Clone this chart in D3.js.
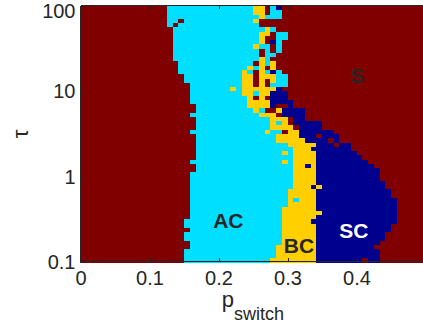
<!DOCTYPE html>
<html>
<head>
<meta charset="utf-8">
<script src="https://cdn.jsdelivr.net/npm/d3@7"></script>
<style>
  body { margin: 0; background: #fff; }
  svg { display: block; }
  text { font-family: "Liberation Sans", Arial, Helvetica, sans-serif; fill: #262626; }
</style>
</head>
<body>
<script>
// phase map: 60 columns of p_switch (0 .. 0.5) by 60 rows of tau (top row = tau 100, log spaced)
// each row is run-length coded: S = S (dark red), A = AC (cyan), B = BC (yellow), C = SC (navy)
var rows = [
  "15S 15A 2B 1S 1A 1C 25S",
  "15S 15A 2B 1S 2A 25S",
  "15S 16A 1B 3A 25S",
  "15S 2A 1S 12A 1B 29S",
  "15S 1A 1S 14A 29S",
  "16S 16A 1B 1A 26S",
  "16S 15A 2B 1S 2A 24S",
  "16S 15A 1B 2S 2A 24S",
  "16S 15A 1B 1S 1C 1A 25S",
  "16S 14A 1B 2A 1S 1A 25S",
  "16S 15A 1S 1A 1S 1A 25S",
  "16S 15A 1S 2A 26S",
  "16S 15A 1B 1A 27S",
  "17S 13A 1S 1B 1A 1B 26S",
  "17S 12A 1B 1A 1B 1S 1B 26S",
  "17S 11A 1B 1A 1S 1B 1A 1C 1A 25S",
  "18S 10A 2B 1S 3B 2A 24S",
  "18S 10A 2B 1S 1B 1S 1B 2A 24S",
  "19S 9A 2B 1S 1B 1S 3A 24S",
  "19S 7A 1B 1A 6B 1C 25S",
  "19S 9A 2B 1A 2B 3C 24S",
  "19S 10A 1B 1S 1B 1S 3C 24S",
  "19S 10A 4B 4C 23S",
  "20S 9A 4B 1C 2S 1C 23S",
  "20S 10A 1B 1A 2S 1B 4C 21S",
  "19S 12A 3B 1S 4C 21S",
  "20S 13A 3B 1S 2C 21S",
  "20S 13A 1B 1A 1B 1S 5C 18S",
  "20S 13A 4B 1S 4C 18S",
  "19S 13A 1B 2A 1S 2B 6C 16S",
  "20S 14A 4B 3C 1S 3C 15S",
  "20S 14A 5B 4C 1S 1C 15S",
  "20S 16A 5B 3C 1S 2C 13S",
  "20S 17A 3B 7C 13S",
  "20S 15A 1B 1A 4B 7C 12S",
  "20S 17A 4B 8C 11S",
  "19S 16A 1B 1A 4B 9C 10S",
  "20S 17A 2B 1C 1B 10C 9S",
  "20S 17A 4B 11C 8S",
  "19S 18A 4B 11C 8S",
  "19S 18A 4B 11C 8S",
  "19S 18A 4B 12C 7S",
  "19S 18A 3B 1C 1B 11C 7S",
  "19S 17A 5B 13C 6S",
  "19S 17A 5B 13C 6S",
  "19S 17A 1B 1A 3B 14C 5S",
  "19S 17A 5B 14C 5S",
  "19S 16A 6B 14C 5S",
  "19S 16A 7B 13C 5S",
  "19S 16A 6B 14C 5S",
  "18S 17A 5B 15C 5S",
  "18S 17A 6B 13C 6S",
  "19S 16A 6B 13C 6S",
  "18S 17A 6B 12C 7S",
  "18S 17A 6B 12C 7S",
  "19S 16A 6B 11C 8S",
  "19S 15A 7B 10C 9S",
  "18S 16A 7B 11C 8S",
  "18S 16A 7B 11C 8S",
  "18S 15A 8B 8C 1S 2C 8S"
];
var nCols = 60;

var categories = ["S", "A", "B", "C"];
var categoryColors = ["#800000", "#00dfff", "#ffcf00", "#00008f"];

var xDomain = [0, 0.5];
var yDomain = [0.1, 100];
var xTicks = [0, 0.1, 0.2, 0.3, 0.4];
var xTickLabels = ["0", "0.1", "0.2", "0.3", "0.4"];
var yTicks = [0.1, 1, 10, 100];
var yTickLabels = ["0.1", "1", "10", "100"];

// region labels, placed in data units (p, tau at baseline)
var regionNames = ["S", "AC", "BC", "SC"];
var regionP = [0.4015, 0.2142, 0.3167, 0.396];
var regionTau = [12.6, 0.25, 0.127, 0.191];
var regionFill = ["#262626", "#262626", "#262626", "#ffffff"];

var W = 423, H = 326;
var plotLeft = 80.5, plotRight = 425.5, plotTop = 6, plotBottom = 262;

var svg = d3.select("body").append("svg")
  .attr("width", W)
  .attr("height", H);

var x = d3.scaleLinear().domain(xDomain).range([plotLeft, plotRight]);
var y = d3.scaleLog().domain(yDomain).range([plotBottom, plotTop]);

var colBand = d3.scaleBand().domain(d3.range(nCols)).range([x(xDomain[0]), x(xDomain[1])]);
var rowBand = d3.scaleBand().domain(d3.range(rows.length)).range([y(yDomain[1]), y(yDomain[0])]);
var color = d3.scaleOrdinal().domain(categories).range(categoryColors);

// decode the runs into rectangles
var runs = [];
rows.forEach(function (r, i) {
  var col = 0;
  r.split(" ").forEach(function (tok) {
    var n = parseInt(tok, 10);
    var c = tok.slice(-1);
    runs.push({ row: i, start: col, len: n, cat: c });
    col += n;
  });
});

svg.append("g")
  .attr("shape-rendering", "crispEdges")
  .selectAll("rect")
  .data(runs)
  .enter().append("rect")
  .attr("x", function (d) { return colBand(d.start); })
  .attr("y", function (d) { return rowBand(d.row); })
  .attr("width", function (d) { return colBand.bandwidth() * d.len + 0.5; })
  .attr("height", rowBand.bandwidth() + 0.5)
  .attr("fill", function (d) { return color(d.cat); });

// region labels
svg.append("g").selectAll("text")
  .data(regionNames)
  .enter().append("text")
  .attr("x", function (d, i) { return x(regionP[i]); })
  .attr("y", function (d, i) { return y(regionTau[i]); })
  .attr("text-anchor", "middle")
  .style("font-size", "21px")
  .style("font-weight", "bold")
  .style("fill", function (d, i) { return regionFill[i]; })
  .text(function (d) { return d; });

// axes, box style with inward ticks
function styleAxis(g) {
  g.select(".domain").attr("stroke", "#262626").attr("shape-rendering", "crispEdges");
  g.selectAll(".tick line").attr("stroke", "#262626").attr("shape-rendering", "crispEdges");
  g.selectAll(".tick text").style("font-size", "20px").attr("fill", "#262626");
}

svg.append("g")
  .attr("transform", "translate(0," + (plotBottom - 1) + ")")
  .call(d3.axisBottom(x).tickValues(xTicks)
    .tickFormat(function (d, i) { return xTickLabels[i]; })
    .tickSizeInner(-3.5).tickSizeOuter(0).tickPadding(10))
  .call(styleAxis);

svg.append("g")
  .attr("transform", "translate(0," + (plotTop - 1) + ")")
  .call(d3.axisTop(x).tickValues(xTicks).tickFormat("")
    .tickSizeInner(-3.5).tickSizeOuter(0))
  .call(styleAxis);

var yAxis = svg.append("g")
  .attr("transform", "translate(" + (plotLeft - 0.5) + ",0)")
  .call(d3.axisLeft(y).tickValues(yTicks)
    .tickFormat(function (d, i) { return yTickLabels[i]; })
    .tickSizeInner(-3.5).tickSizeOuter(0).tickPadding(4.5))
  .call(styleAxis);
// top label sits a little below its tick, as in the original
yAxis.selectAll(".tick text").filter(function (d) { return d === 100; }).attr("y", 5);

// axis titles
var xl = svg.append("text")
  .attr("x", (plotLeft + plotRight) / 2)
  .attr("y", 306.5)
  .attr("text-anchor", "middle");
xl.append("tspan").style("font-size", "22px").text("p");
xl.append("tspan").style("font-size", "18px").attr("dy", 13.5).text("switch");

svg.append("text")
  .attr("transform", "translate(28," + ((plotTop + plotBottom) / 2) + ") rotate(-90)")
  .attr("text-anchor", "middle")
  .style("font-size", "22px")
  .text("τ");
</script>
</body>
</html>
